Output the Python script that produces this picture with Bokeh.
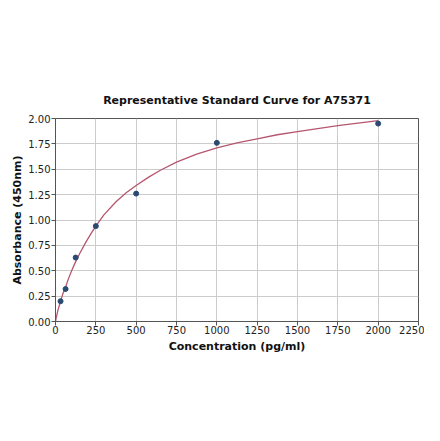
from bokeh.plotting import figure
from bokeh.models import FixedTicker, NumeralTickFormatter, Range1d
from bokeh.embed import file_html
from bokeh.resources import INLINE

# Standard points
conc = [31.25, 62.5, 125, 250, 500, 1000, 2000]
absorb = [0.20, 0.32, 0.63, 0.94, 1.26, 1.76, 1.95]

# Fitted curve
curve_x = [0, 5, 15, 31.25, 45, 62.5, 80, 100, 125, 150, 187.5, 220, 250,
           300, 375, 440, 500, 575, 650, 750, 875, 1000, 1125, 1250, 1375,
           1500, 1625, 1750, 1875, 2000]
curve_y = [0, 0.04, 0.11, 0.20, 0.27, 0.34, 0.42, 0.50, 0.59, 0.67, 0.78,
           0.865, 0.94, 1.05, 1.18, 1.27, 1.34, 1.42, 1.49, 1.57, 1.65, 1.71,
           1.76, 1.80, 1.84, 1.87, 1.90, 1.93, 1.955, 1.98]

x_ticks = [0, 250, 500, 750, 1000, 1250, 1500, 1750, 2000, 2250]
y_ticks = [0, 0.25, 0.5, 0.75, 1.0, 1.25, 1.5, 1.75, 2.0]

p = figure(width=424, height=425, output_backend="svg", toolbar_location=None,
           title="Representative Standard Curve for A75371",
           x_range=Range1d(0, 2250), y_range=Range1d(0, 2.0),
           x_axis_label="Concentration (pg/ml)",
           y_axis_label="Absorbance (450nm)")
p.min_border_left = 55
p.min_border_right = 6
p.min_border_top = 118
p.min_border_bottom = 104

p.title.align = "center"
p.title.text_font = "DejaVu Sans"
p.title.text_font_size = "11px"
p.title.text_font_style = "bold"
p.title.text_color = "#111111"
p.title.standoff = 23

p.outline_line_color = "#555555"
p.outline_line_width = 1

for ax in (p.xaxis[0], p.yaxis[0]):
    ax.axis_label_text_font = "DejaVu Sans"
    ax.axis_label_text_font_size = "11px"
    ax.axis_label_text_font_style = "bold"
    ax.axis_label_text_color = "#111111"
    ax.major_label_text_font = "DejaVu Sans"
    ax.major_label_text_font_size = "10px"
    ax.major_label_text_color = "#222222"
    ax.minor_tick_line_color = None
    ax.major_tick_out = 4
    ax.major_tick_in = 0
    ax.axis_line_color = "#555555"
    ax.major_tick_line_color = "#555555"

p.xaxis.major_label_standoff = 0
p.yaxis.major_label_standoff = 1
p.xaxis.axis_label_standoff = 3
p.yaxis.axis_label_standoff = 1

p.xaxis.ticker = FixedTicker(ticks=x_ticks)
p.yaxis.ticker = FixedTicker(ticks=y_ticks)
p.yaxis.formatter = NumeralTickFormatter(format="0.00")
p.xaxis.formatter = NumeralTickFormatter(format="0")

p.xgrid.ticker = FixedTicker(ticks=x_ticks)
p.ygrid.ticker = FixedTicker(ticks=y_ticks)
p.grid.grid_line_color = "#cccccc"
p.grid.grid_line_width = 1

p.line(curve_x, curve_y, line_color="#b5566e", line_width=1.3)
p.scatter(conc, absorb, size=5, fill_color="#2b4a6f", line_color="#2b4a6f")

open("out.html", "w").write(file_html(p, INLINE))
